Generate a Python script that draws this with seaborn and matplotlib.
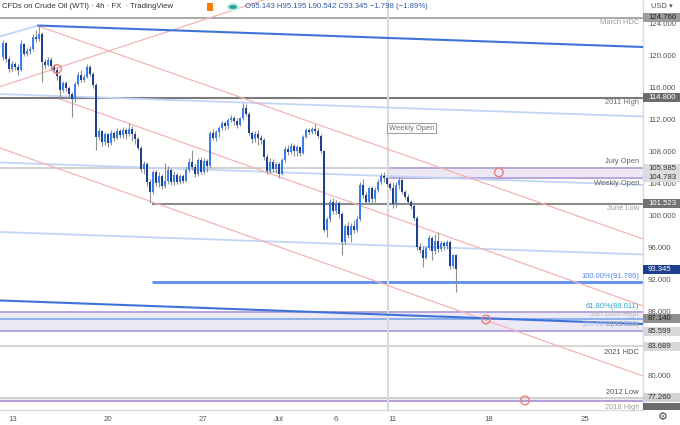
import numpy as np
import pandas as pd
import matplotlib
matplotlib.use("Agg")
import matplotlib.pyplot as plt
import seaborn as sns
from matplotlib.transforms import blended_transform_factory
from matplotlib.patches import Rectangle, Circle

# ---------------- data ----------------
opens = [119.9, 121.6, 119.6, 118.4, 119.0, 118.6, 118.3, 121.5, 120.3, 120.6,
         120.9, 122.4, 122.1, 122.8, 119.2, 118.9, 119.5, 118.7, 118.3, 117.5,
         115.8, 116.6, 116.0, 115.2, 114.6, 116.5, 117.6, 117.0, 117.4, 118.6,
         117.8, 116.4, 109.9, 110.6, 109.3, 110.2, 109.1, 110.4, 109.8, 110.6,
         110.1, 110.8, 110.3, 110.9, 110.2, 109.6, 108.5, 105.9, 106.5, 104.2,
         103.0, 105.5, 104.1, 105.0, 103.8, 104.4, 105.8, 104.2, 105.1, 104.3,
         105.0, 104.4, 105.8, 106.8, 106.1, 105.3, 107.0, 105.5, 106.9, 106.3,
         110.4, 109.8, 110.5, 111.0, 111.6, 111.2, 112.0, 112.3, 111.9, 111.4,
         112.2, 113.5, 112.8, 110.4, 109.6, 110.3, 109.8, 109.5, 107.4, 105.6,
         106.8, 105.9, 106.5, 105.3, 107.0, 108.4, 108.0, 108.7, 108.1, 108.6,
         107.9, 109.9, 110.8, 110.5, 110.9, 110.6, 110.0, 108.1, 98.3, 99.6,
         101.8, 100.6, 101.6, 100.2, 96.8, 98.7, 97.6, 98.7, 98.2, 99.6,
         103.9, 102.6, 101.8, 103.5, 102.1, 103.3, 104.3, 105.0, 104.783, 104.0,
         103.5, 101.5, 103.9, 104.5, 103.0, 102.4, 101.8, 101.3, 99.8, 96.1,
         95.7, 94.8, 96.0, 97.2, 95.6, 96.9, 95.9, 96.6, 96.2, 96.8,
         93.7, 95.143]
highs = [122.0, 121.8, 120.0, 119.4, 119.3, 119.0, 122.0, 121.6, 121.0, 121.2,
         122.8, 123.2, 123.9, 123.0, 119.6, 119.9, 119.9, 119.0, 118.6, 117.7,
         116.9, 116.9, 116.3, 115.5, 116.8, 118.0, 118.3, 117.8, 119.0, 118.9,
         118.0, 116.6, 111.0, 110.8, 110.5, 110.4, 110.8, 110.6, 111.0, 110.9,
         111.1, 111.0, 111.6, 111.3, 110.6, 109.9, 108.7, 106.9, 106.7, 104.6,
         105.8, 105.8, 105.5, 105.3, 106.6, 106.2, 106.0, 105.6, 105.4, 105.3,
         105.3, 106.1, 107.2, 108.3, 106.5, 107.3, 107.4, 107.2, 107.1, 110.6,
         110.9, 110.8, 111.3, 111.9, 111.9, 112.3, 112.6, 112.5, 112.2, 112.4,
         114.1, 114.0, 113.0, 110.6, 110.6, 110.8, 110.1, 109.7, 107.7, 107.2,
         107.1, 106.8, 106.7, 107.3, 108.7, 108.9, 109.1, 109.0, 108.9, 108.8,
         110.1, 111.0, 111.0, 111.1, 111.5, 111.0, 110.2, 108.3, 99.9, 102.1,
         102.3, 102.0, 101.9, 100.5, 99.0, 99.2, 99.1, 99.5, 100.0, 104.3,
         104.6, 103.0, 103.8, 103.8, 103.6, 104.6, 105.4, 105.5, 104.9, 104.2,
         104.2, 104.2, 104.9, 104.6, 103.3, 102.7, 102.0, 101.7, 100.0, 96.6,
         96.2, 96.3, 97.6, 97.5, 97.8, 98.0, 96.9, 96.9, 97.0, 97.0,
         95.3, 95.195]
lows = [119.5, 119.3, 118.0, 118.1, 118.2, 117.6, 118.1, 120.0, 120.0, 120.3,
        120.6, 121.8, 121.9, 116.8, 118.4, 118.7, 118.3, 117.9, 117.0, 114.6,
        115.5, 115.6, 114.8, 112.4, 114.3, 116.2, 116.7, 116.8, 117.2, 117.5,
        116.0, 108.3, 109.5, 108.8, 108.9, 108.6, 108.9, 109.4, 109.6, 109.7,
        109.8, 109.6, 110.0, 109.4, 109.0, 108.2, 105.5, 105.2, 103.7, 101.6,
        102.8, 103.8, 103.6, 103.4, 103.5, 104.0, 103.9, 103.9, 104.0, 104.0,
        104.1, 104.2, 105.5, 105.8, 104.9, 105.0, 105.2, 105.3, 105.5, 106.0,
        109.5, 109.4, 109.9, 110.7, 110.8, 110.9, 111.8, 111.4, 111.0, 111.2,
        112.0, 112.5, 110.1, 109.1, 109.3, 108.9, 109.0, 107.0, 105.2, 105.4,
        105.5, 105.4, 104.8, 105.1, 106.8, 107.6, 107.8, 107.5, 107.5, 107.5,
        107.7, 109.7, 110.2, 110.3, 110.3, 109.8, 107.9, 98.0, 97.4, 99.3,
        100.3, 100.2, 99.8, 95.1, 96.5, 97.2, 96.7, 97.9, 98.0, 99.4,
        102.2, 101.5, 101.5, 101.6, 101.7, 103.0, 104.0, 104.3, 103.7, 103.2,
        101.0, 101.1, 103.4, 102.8, 102.1, 101.5, 100.9, 99.5, 95.8, 95.4,
        93.6, 94.6, 95.8, 94.5, 95.3, 95.5, 95.6, 95.8, 95.9, 93.4,
        93.5, 90.542]
closes = [121.6, 119.6, 118.4, 119.0, 118.6, 118.3, 121.5, 120.3, 120.6, 120.9,
          122.4, 122.1, 122.8, 119.2, 118.9, 119.5, 118.7, 118.3, 117.5, 115.8,
          116.6, 116.0, 115.2, 114.6, 116.5, 117.6, 117.0, 117.4, 118.6, 117.8,
          116.4, 109.9, 110.6, 109.3, 110.2, 109.1, 110.4, 109.8, 110.6, 110.1,
          110.8, 110.3, 110.9, 110.2, 109.6, 108.5, 105.9, 106.5, 104.2, 103.0,
          105.5, 104.1, 105.0, 103.8, 104.4, 105.8, 104.2, 105.1, 104.3, 105.0,
          104.4, 105.8, 106.8, 106.1, 105.3, 107.0, 105.5, 106.9, 106.3, 110.4,
          109.8, 110.5, 111.0, 111.6, 111.2, 112.0, 112.3, 111.9, 111.4, 112.2,
          113.5, 112.8, 110.4, 109.6, 110.3, 109.8, 109.5, 107.4, 105.6, 106.8,
          105.9, 106.5, 105.3, 107.0, 108.4, 108.0, 108.7, 108.1, 108.6, 107.9,
          109.9, 110.8, 110.5, 110.9, 110.6, 110.0, 108.1, 98.3, 99.6, 101.8,
          100.6, 101.6, 100.2, 96.8, 98.7, 97.6, 98.7, 98.2, 99.6, 103.9,
          102.6, 101.8, 103.5, 102.1, 103.3, 104.3, 105.0, 104.783, 104.0, 103.5,
          101.5, 103.9, 104.5, 103.0, 102.4, 101.8, 101.3, 99.8, 96.1, 95.7,
          94.8, 96.0, 97.2, 95.6, 96.9, 95.9, 96.6, 96.2, 96.8, 93.7,
          95.143, 93.345]

# time axis (bar index positions of the date labels)
date_labels = ["13", "20", "27", "Jul", "6", "11", "18", "25"]
date_pos = [3.3, 35.0, 66.7, 92.0, 111.0, 129.7, 162.0, 194.0]
price_ticks = [80, 88, 92, 96, 100, 104, 108, 112, 116, 120, 124]

# key levels
level_march_hdc = 124.760
level_2011_high = 114.800
level_july_open = 105.985
level_weekly_open = 104.783
level_june_low = 101.523
level_fib100 = 91.786
level_fib618 = 88.011
level_jan2010 = 87.140
level_2013_low = 85.599
level_2021_hdc = 83.689
level_2012_low = 77.260
level_2018_high = 76.92
last_close = 93.345
weekly_open_bar = 128.3
june_low_bar = 49.7

# trendlines (bar, price) endpoints
blue_upper = ([11.67, 213.33], [123.81, 121.125])
blue_upper_ext = ([-1.0, 11.67], [122.44, 123.81])
blue_lower = ([-1.0, 213.33], [89.44, 86.5])
lightblue_a = ([-1.0, 213.33], [115.25, 112.44])
lightblue_b = ([-1.0, 213.33], [106.69, 103.875])
lightblue_c = ([-1.0, 213.33], [98.0, 95.19])
pink_up = ([-1.0, 87.0], [116.16, 127.0])
pink_1 = ([11.67, 213.33], [123.75, 97.125])
pink_2 = ([19.0, 213.33], [114.625, 88.75])
pink_3 = ([-1.0, 213.33], [108.5, 80.0])
circle_x = [18.0, 165.3, 161.0, 174.0]
circle_y = [118.375, 105.45, 87.06, 76.95]

# ---------------- figure ----------------
sns.set_theme(style="white")
plt.rcParams["font.family"] = ["Liberation Sans", "DejaVu Sans"]

fig = plt.figure(figsize=(6.8, 4.25), dpi=100)
fig.patch.set_facecolor("white")
ax = fig.add_axes([0, 15 / 425, 643 / 680, 410 / 425])
ax.set_facecolor("white")
XMIN, XMAX = -1.0, 213.33
ax.set_xlim(XMIN, XMAX)
ax.set_ylim(75.75, 127.0)

bt = blended_transform_factory(ax.transAxes, ax.transData)

# zones
ax.axhspan(level_2013_low, level_fib618, color="#ece9f6", zorder=1, lw=0)
ax.fill_between([weekly_open_bar, XMAX], level_weekly_open, level_july_open,
                color="#ece8f5", zorder=1, lw=0)
ax.axhspan(level_2018_high, level_2012_low, color="#efedf7", zorder=1, lw=0)

# horizontal lines
ax.axhline(level_march_hdc, color="#a8a8a8", lw=1.4, zorder=2)
ax.axhline(level_2011_high, color="#7a7a7a", lw=1.5, zorder=2)
ax.axhline(level_july_open, color="#d0d0d0", lw=1.4, zorder=2)
ax.hlines([level_july_open, level_weekly_open], weekly_open_bar, XMAX,
          color="#b9a6dc", lw=1.4, zorder=2)
ax.hlines(level_june_low, june_low_bar, XMAX, color="#8a8a8a", lw=1.5, zorder=2)
ax.hlines(level_fib100, june_low_bar, XMAX, color="#5b8def", lw=2.0, zorder=2)
ax.axhline(level_fib618, color="#b7a4dc", lw=1.4, zorder=2)
ax.axhline(level_jan2010, color="#8fb0ea", lw=1.4, zorder=2)
ax.axhline(level_2013_low, color="#b7a4dc", lw=1.4, zorder=2)
ax.axhline(level_2021_hdc, color="#d6d6d6", lw=1.5, zorder=2)
ax.axhline(level_2012_low, color="#d0d0d0", lw=1.4, zorder=2)
ax.axhline(level_2018_high, color="#b39ddb", lw=1.4, zorder=2)
ax.axvline(weekly_open_bar, color="#dadada", lw=1.5, zorder=2)

# trendlines
def tline(pts, color, lw, z=2):
    df = pd.DataFrame({"x": pts[0], "y": pts[1]})
    sns.lineplot(data=df, x="x", y="y", ax=ax, color=color, lw=lw, zorder=z,
                 sort=False, estimator=None)

for pts in (lightblue_a, lightblue_b, lightblue_c, blue_upper_ext):
    tline(pts, "#c3d5f5", 1.3)
for pts in (pink_up, pink_1, pink_2, pink_3):
    tline(pts, "#f6b3b3", 0.9)
tline(blue_upper, "#3f72d8", 1.5, 3)
tline(blue_lower, "#3f72d8", 1.5, 3)

# candles
idx = np.arange(len(closes))
o = np.array(opens); c = np.array(closes)
h = np.array(highs); l = np.array(lows)
up = c >= o
ax.vlines(idx, l, h, color="#8f8f8f", lw=0.8, zorder=4)
body_bottom = np.minimum(o, c)
body_height = np.maximum(np.abs(c - o), 0.12)
ax.bar(idx, body_height, bottom=body_bottom, width=0.72,
       color=np.where(up, "#3a7ff0", "#1f408e"), lw=0, zorder=5)

# red circles
sns.scatterplot(x=circle_x, y=circle_y, ax=ax, s=38, facecolors="none",
                edgecolor="#ef7d7d", linewidth=1.0, zorder=6)

# level texts
lab_x = 639 / 643
def ltxt(y, s, color, z=7):
    ax.text(lab_x, y, s, transform=bt, ha="right", va="center",
            fontsize=5.4, color=color, zorder=z, clip_on=False)

ltxt(124.16, "March HDC", "#9a9a9a")
ltxt(114.16, "2011 High", "#707070")
ltxt(106.79, "July Open", "#606060")
ltxt(104.09, "Weekly Open", "#606060")
ltxt(101.0, "June Low", "#9a9a9a")
ltxt(92.5, "100.00%(91.786)", "#4f86ee")
ltxt(88.75, "61.80%(88.011)", "#30a0c8")
ltxt(87.75, "Jan 2010 High", "#b8b8b8")
ltxt(86.45, "100.00%(86.520)", "#a9bfea")
ltxt(86.4, "2013 Low", "#a0a0a0", 8)
ltxt(82.9, "2021 HDC", "#505050")
ltxt(77.9, "2012 Low", "#505050")
ltxt(76.1, "2018 High", "#a0a0a0")

ax.text(weekly_open_bar + 0.3, 111.0, "Weekly Open", ha="left", va="center",
        fontsize=5.4, color="#707070", zorder=7,
        bbox=dict(boxstyle="square,pad=0.25", fc="white", ec="#a0a0a0", lw=0.8))

# price axis
px_x = 648 / 643
for t in price_ticks:
    ax.text(px_x, t, f"{t:.3f}", transform=bt, ha="left", va="center",
            fontsize=5.6, color="#555555", clip_on=False, zorder=3)

box_w = 37 / 643
def pbox(y, s, fc, tc, hh=0.56):
    ax.add_patch(Rectangle((1.0, y - hh), box_w, 2 * hh, transform=bt, fc=fc,
                           ec="none", clip_on=False, zorder=9))
    ax.text(px_x, y, s, transform=bt, ha="left", va="center", fontsize=5.6,
            color=tc, clip_on=False, zorder=10)

pbox(level_march_hdc, "124.760", "#9c9c9c", "#222222")
pbox(level_2011_high, "114.800", "#6b6b6b", "white")
pbox(level_july_open, "105.985", "#dcdcdc", "#333333")
pbox(level_weekly_open, "104.783", "#dcdcdc", "#333333")
pbox(level_june_low, "101.523", "#727272", "white")
pbox(last_close, f"{last_close:.3f}", "#1e3f8f", "white")
pbox(level_jan2010, "87.140", "#8f8f8f", "#222222")
pbox(level_2013_low, "85.599", "#d8d8d8", "#333333")
pbox(level_2021_hdc, "83.689", "#d8d8d8", "#333333")
pbox(level_2012_low, "77.260", "#d2d2d2", "#333333")
ax.add_patch(Rectangle((1.0, 75.75), box_w, 0.85, transform=bt, fc="#6b6b6b",
                       ec="none", clip_on=False, zorder=9))

# time axis
ax.set_xlabel("")
ax.set_ylabel("")
ax.set_xticks(date_pos)
ax.set_xticklabels(date_labels)
ax.set_yticks([])
ax.tick_params(axis="x", length=0, pad=4, labelsize=5.6, labelcolor="#555555")
for s in ("top", "left"):
    ax.spines[s].set_visible(False)
for s in ("right", "bottom"):
    ax.spines[s].set_color("#d8dbe2")
    ax.spines[s].set_linewidth(1.0)

# header
fig.text(2 / 680, 1 - 7 / 425, "CFDs on Crude Oil (WTI) · 4h · FX  · TradingView",
         ha="left", va="center", fontsize=5.6, color="#333333")
fig.patches.append(Rectangle((207 / 680, 1 - 11 / 425), 6 / 680, 8 / 425,
                             transform=fig.transFigure, fc="#f57c00", ec="none"))
fig.patches.append(Circle((233 / 680, 1 - 7 / 425), 0.0075,
                          transform=fig.transFigure, fc="#26a69a", ec="#c8ebe7", lw=1.5))
fig.text(245 / 680, 1 - 7 / 425, "O95.143 H95.195 L90.542 C93.345 \u22121.798 (\u22121.89%)",
         ha="left", va="center", fontsize=5.6, color="#2f5aa8")
fig.text(651 / 680, 1 - 7 / 425, "USD \u25be", ha="left", va="center",
         fontsize=5.4, color="#555555")
fig.text(663 / 680, 8 / 425, "\u2699", ha="center", va="center",
         fontsize=8, color="#444444", family=["DejaVu Sans"])

fig.savefig("out.png", dpi=100)
